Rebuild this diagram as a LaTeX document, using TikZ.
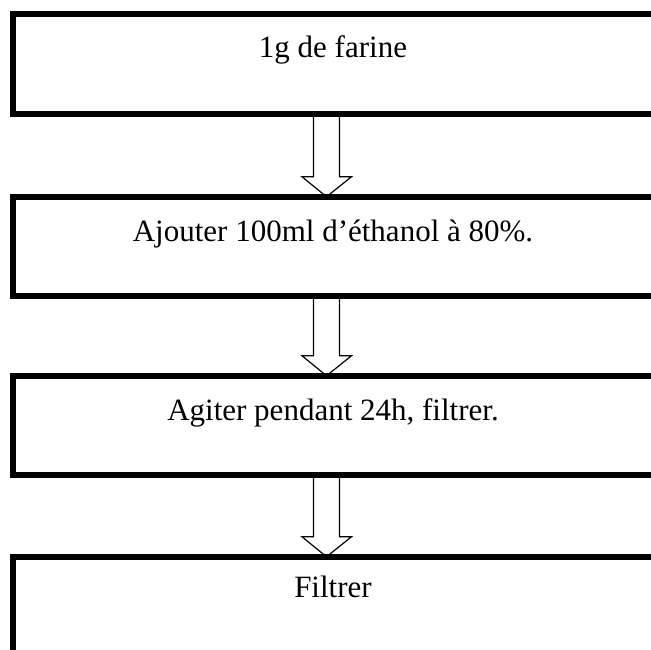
\documentclass[tikz,border=0pt]{standalone}
\usepackage{fontspec}
\setmainfont{Liberation Serif}
\usepackage{tikz}
\usetikzlibrary{positioning,calc}

\tikzset{
  stepbox/.style={rectangle, draw=black, line width=6pt, minimum width=641pt,
                  minimum height=99.5pt, inner sep=0pt, outer sep=0pt},
  steptext/.style={anchor=base, font=\fontsize{31}{37}\selectfont},
  hollowarrow/.style={draw=black, line width=1.2pt, line join=miter}
}

\begin{document}
\begin{tikzpicture}[x=1pt,y=-1pt]
\useasboundingbox (0,0) rectangle (651,650);
\clip (0,0) rectangle (651,650);

% boites
\node[stepbox] (farine) at (333,64) {};
\node[stepbox] (ethanol) at (333,246.5) {};
\node[stepbox] (agiter) at (333,425.5) {};
\node[stepbox] (filtrer) at (333,606.5) {};

% textes
\node[steptext] (tfarine) at ($(farine.north)+(0,43)$) {1g de farine};
\node[steptext] (tethanol) at ($(ethanol.north)+(0,45)$) {Ajouter 100ml d’éthanol à 80\%.};
\node[steptext] (tagiter) at ($(agiter.north)+(0,44.5)$) {Agiter pendant 24h, filtrer.};
\node[steptext] (tfiltrer) at ($(filtrer.north)+(0,40.5)$) {Filtrer};

% fleches
\foreach \a/\b in {farine/ethanol, ethanol/agiter, agiter/filtrer}
  \draw[hollowarrow] ($(\a.south)+(-19.5,0)$) -- ($(\b.north)+(-19.5,-20)$)
    -- ++(-11.5,0) -- ($(\b.north)+(-6.5,0)$) -- ($(\b.north)+(18.5,-20)$)
    -- ++(-12,0) -- ($(\a.south)+(6.5,0)$);
\end{tikzpicture}
\end{document}
